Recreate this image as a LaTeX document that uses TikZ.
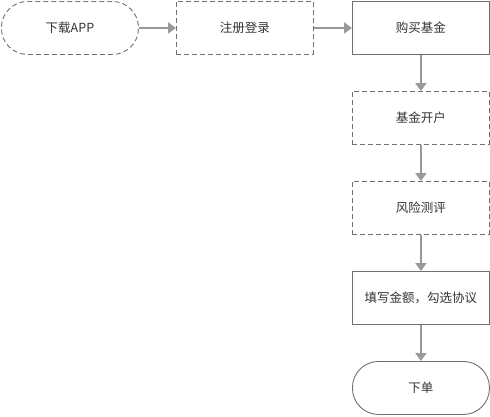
\documentclass[tikz,border=0pt]{standalone}
\usepackage{fontspec}
\setmainfont{Noto Sans CJK SC}
\usetikzlibrary{arrows.meta}
\definecolor{bordergray}{HTML}{707070}
\definecolor{arrowgray}{HTML}{999999}
\definecolor{txtgray}{HTML}{333333}
\tikzset{
  box/.style={draw=bordergray, line width=0.9pt, minimum width=137pt, minimum height=53pt, inner sep=0pt, text=txtgray, font=\fontsize{12.5pt}{14pt}\selectfont, anchor=north west},
  dashbox/.style={box, dash pattern=on 5pt off 3pt},
  pill/.style={box, rounded corners=26pt},
  conn/.style={draw=arrowgray, line width=2pt, -{Triangle[length=8pt,width=11pt]}},
}
\begin{document}
\begin{tikzpicture}[x=1pt,y=-1pt]
\useasboundingbox (0,0) rectangle (490,416);
\node[pill, dash pattern=on 5pt off 3pt] (a) at (1,1) {下载APP};
\node[dashbox] (b) at (176,1) {注册登录};
\node[box] (c) at (352,1) {购买基金};
\node[dashbox] (d) at (352,91) {基金开户};
\node[dashbox] (e) at (352,181) {风险测评};
\node[box] (f) at (352,271) {填写金额，勾选协议};
\node[pill] (g) at (352,361) {下单};
\draw[conn] (a) -- (b);
\draw[conn] (b) -- (c);
\draw[conn] (c) -- (d);
\draw[conn] (d) -- (e);
\draw[conn] (e) -- (f);
\draw[conn] (f) -- (g);
\end{tikzpicture}
\end{document}
